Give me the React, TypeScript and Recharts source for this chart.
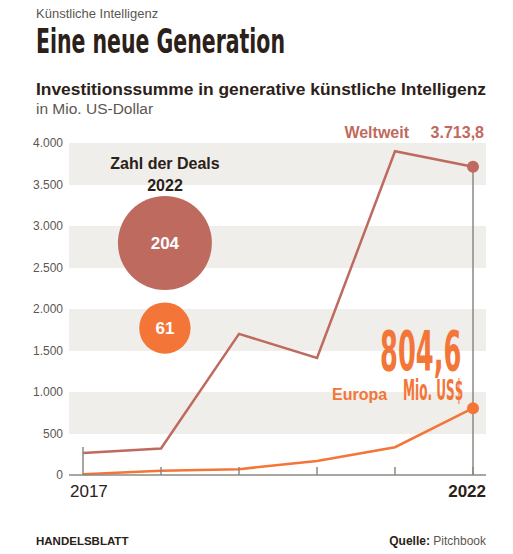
import React from 'react';
import {
  ComposedChart,
  Line,
  Scatter,
  XAxis,
  YAxis,
  ZAxis,
  CartesianGrid,
  ReferenceLine,
} from 'recharts';

// Investitionssumme in generative KI, Mio. US-Dollar
const years = [2017, 2018, 2019, 2020, 2021, 2022];
const weltweit = [265, 320, 1700, 1410, 3900, 3713.8];
const europa = [10, 50, 70, 170, 335, 804.6];
const yTicks = [0, 500, 1000, 1500, 2000, 2500, 3000, 3500, 4000];

// Zahl der Deals 2022 (Blasen)
const dealLabels = ['Weltweit', 'Europa'];
const dealCounts = [204, 61];
const dealYear = [2018.05, 2018.05];
const dealLevel = [2795, 1770];

const WELT = '#bf6a5e';
const EU = '#f47538';
const BAND = '#efeeea';
const AXIS = '#8c8781';
const DARK = '#2b2118';
const GREY = '#5e5650';
const FONT = "'Liberation Sans', Arial, sans-serif";
const NARROW = "'Liberation Sans Narrow', 'DejaVu Sans Condensed', 'Roboto', sans-serif";

const rows = years.map((year, i) => ({ year, weltweit: weltweit[i], europa: europa[i] }));
const deals = dealCounts.map((n, i) => ({
  name: dealLabels[i],
  year: dealYear[i],
  value: dealLevel[i],
  deals: n,
  color: i === 0 ? WELT : EU,
}));

const fmt = (v: number) =>
  v >= 1000 ? `${Math.floor(v / 1000)}.${String(v % 1000).padStart(3, '0')}` : String(v);

function YearTick({ x, y, payload }: any) {
  const yr = payload.value;
  const len = yr === 2017 ? 28 : 8;
  return (
    <g>
      <line x1={x} x2={x} y1={y} y2={y - len} stroke={AXIS} strokeWidth={1.5} />
      {yr === 2017 && (
        <text x={x - 13} y={y + 22} textAnchor="start" fontSize={17} fill={DARK} fontFamily={FONT}>
          2017
        </text>
      )}
      {yr === 2022 && (
        <text x={x + 13} y={y + 22} textAnchor="end" fontSize={17} fontWeight="bold" fill={DARK} fontFamily={FONT}>
          2022
        </text>
      )}
    </g>
  );
}

function Bubble(props: any) {
  const { cx, cy, size, payload } = props;
  const r = size ? Math.sqrt(size / Math.PI) : 20;
  return (
    <g>
      <circle cx={cx} cy={cy} r={r} fill={payload.color} />
      <text
        x={cx}
        y={cy + 6}
        textAnchor="middle"
        fontSize={17}
        fontWeight="bold"
        fill="#ffffff"
        fontFamily={FONT}
      >
        {payload.deals}
      </text>
    </g>
  );
}

const endDot = (color: string, r: number) => (p: any) =>
  p.index === years.length - 1 ? (
    <circle key={`d${p.index}`} cx={p.cx} cy={p.cy} r={r} fill={color} />
  ) : (
    <g key={`d${p.index}`} />
  );

export default function App() {
  return (
    <div style={{ position: 'absolute', left: 0, top: 0, width: 513, height: 554, background: '#fff' }}>
      <ComposedChart
        width={513}
        height={554}
        data={rows}
        margin={{ top: 143, right: 27, bottom: 49, left: 0 }}
      >
        <CartesianGrid vertical={false} stroke="transparent" horizontalFill={[BAND, '#ffffff']} />
        <XAxis
          dataKey="year"
          type="number"
          domain={[2017, 2022]}
          ticks={years}
          interval={0}
          padding={{ left: 14, right: 13 }}
          tick={<YearTick />}
          tickSize={0}
          tickMargin={0}
          tickLine={false}
          axisLine={{ stroke: AXIS, strokeWidth: 1.5 }}
          height={30}
        />
        <YAxis
          type="number"
          domain={[0, 4000]}
          ticks={yTicks}
          interval={0}
          width={69}
          tickSize={0}
          tickMargin={6}
          tickLine={false}
          axisLine={false}
          tickFormatter={fmt}
          tick={{ fontSize: 12, fill: GREY, fontFamily: FONT }}
        />
        <ZAxis dataKey="deals" type="number" domain={[0, 204]} range={[0, 6940]} />
        <ReferenceLine
          segment={[
            { x: 2022, y: 0 },
            { x: 2022, y: weltweit[weltweit.length - 1] },
          ]}
          stroke={AXIS}
          strokeWidth={1.5}
        />
        <Scatter data={deals} dataKey="value" shape={<Bubble />} isAnimationActive={false} />
        <Line
          dataKey="weltweit"
          type="linear"
          stroke={WELT}
          strokeWidth={2.5}
          dot={endDot(WELT, 6)}
          activeDot={false}
          isAnimationActive={false}
        />
        <Line
          dataKey="europa"
          type="linear"
          stroke={EU}
          strokeWidth={2.5}
          dot={endDot(EU, 6)}
          activeDot={false}
          isAnimationActive={false}
        />
      </ComposedChart>

      <svg
        width={513}
        height={554}
        style={{ position: 'absolute', left: 0, top: 0, pointerEvents: 'none' }}
      >
        <text x={36} y={18} fontSize={13} fill={GREY} fontFamily={FONT}>
          Künstliche Intelligenz
        </text>
        <text
          x={36}
          y={53}
          fontSize={33}
          fontWeight="bold"
          fill={DARK}
          fontFamily={NARROW}
          textLength={249}
          lengthAdjust="spacingAndGlyphs"
        >
          Eine neue Generation
        </text>
        <text
          x={36}
          y={95}
          fontSize={17}
          fontWeight="bold"
          fill={DARK}
          fontFamily={FONT}
          textLength={450}
          lengthAdjust="spacingAndGlyphs"
        >
          Investitionssumme in generative künstliche Intelligenz
        </text>
        <text x={36} y={114} fontSize={15.5} fill={GREY} fontFamily={FONT}>
          in Mio. US-Dollar
        </text>

        <text x={165} y={169} textAnchor="middle" fontSize={16} fontWeight="bold" fill={DARK} fontFamily={FONT}>
          Zahl der Deals
        </text>
        <text x={165} y={191} textAnchor="middle" fontSize={16} fontWeight="bold" fill={DARK} fontFamily={FONT}>
          2022
        </text>

        <text x={409} y={138} textAnchor="end" fontSize={16} fontWeight="bold" fill={WELT} fontFamily={FONT}>
          Weltweit
        </text>
        <text x={484} y={138} textAnchor="end" fontSize={16} fontWeight="bold" fill={WELT} fontFamily={FONT}>
          3.713,8
        </text>

        <text
          transform="translate(380 370) scale(0.65 1.26)"
          fontSize={44}
          fontWeight="bold"
          fill={EU}
          fontFamily={NARROW}
        >
          804,6
        </text>
        <text
          transform="translate(403 400) scale(0.56 1.21)"
          fontSize={24}
          fontWeight="bold"
          fill={EU}
          fontFamily={NARROW}
        >
          Mio. US$
        </text>
        <text x={332} y={400} fontSize={16} fontWeight="bold" fill={EU} fontFamily={FONT}>
          Europa
        </text>

        <text x={36} y={545} fontSize={11.5} fontWeight="bold" fill={DARK} fontFamily={FONT}>
          HANDELSBLATT
        </text>
        <text x={486} y={545} textAnchor="end" fontSize={12} fill={GREY} fontFamily={FONT}>
          <tspan fontWeight="bold" fill={DARK}>Quelle:</tspan> Pitchbook
        </text>
      </svg>
    </div>
  );
}
